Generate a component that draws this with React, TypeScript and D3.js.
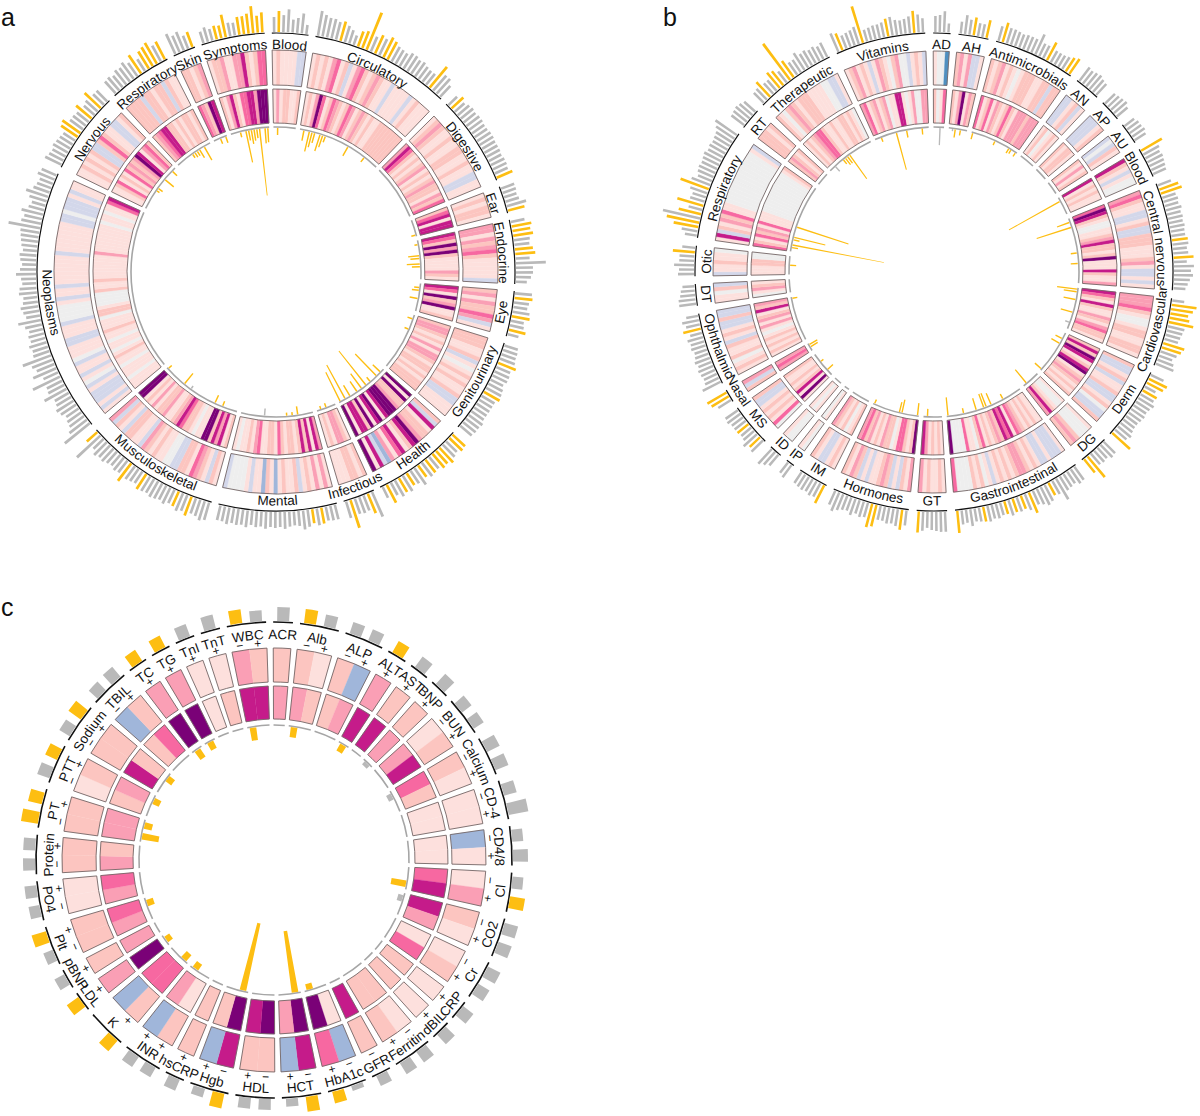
import React from "react";
import * as d3 from "d3";

// Heat levels: 0 grey, 1-6 red-purple ramp, 7 lavender, 8 blue, 9 dark blue
const heatLevels = [0, 1, 2, 3, 4, 5, 6, 7, 8, 9];
const heatColors = ["#eeeeee", "#fde0dd", "#fcc5c0", "#fa9fb5", "#f768a1", "#c51b8a", "#7a0177", "#d3d7ea", "#a0b6da", "#4f8fc0"];

// ---------- Panel a ----------
const aNames = ["Blood", "Circulatory", "Digestive", "Ear", "Endocrine", "Eye", "Genitourinary", "Health", "Infectious", "Mental", "Musculoskeletal", "Neoplasms", "Nervous", "Respiratory", "Skin", "Symptoms"];
const aOuterHeat = [
  [1, 2, 1, 1, 1, 1, 7, 7],
  [1, 2, 1, 2, 1, 3, 4, 1, 2, 7, 1, 3, 4, 2, 1, 2, 3, 2, 1, 1, 7, 1, 1, 1, 1, 7, 1, 2, 1, 1, 1],
  [1, 2, 3, 2, 1, 1, 2, 1, 1, 2, 2, 1, 1, 2, 1, 1, 7, 7, 1, 1],
  [1, 2, 1, 2, 2, 1],
  [3, 3, 1, 3, 2, 3, 4, 2, 1, 1, 1, 1, 1, 7],
  [2, 3, 1, 3, 2, 2, 4, 3, 7, 1],
  [2, 2, 2, 1, 1, 2, 7, 1, 0, 1, 2, 1, 2, 1, 1, 2, 7, 7, 1, 1, 1],
  [2, 7, 5, 1, 2, 2, 3, 6, 5, 2, 1, 5, 4, 1, 3, 8, 7, 5, 1, 6],
  [2, 1, 2, 2, 1, 1, 1],
  [1, 3, 1, 3, 1, 2, 1, 7, 2, 1, 1, 2, 1, 8, 1, 2, 8, 1, 1, 7, 1, 0, 0, 0, 0, 7],
  [1, 2, 7, 1, 2, 3, 4, 1, 2, 2, 7, 7, 0, 0, 1, 1, 2, 1, 2, 3, 7, 1, 1, 2, 2, 7, 1, 2, 7, 3],
  [1, 7, 1, 7, 7, 7, 1, 7, 0, 1, 7, 1, 1, 7, 0, 1, 1, 1, 7, 7, 1, 1, 1, 7, 0, 0, 0, 0, 1, 7, 1, 1, 7, 1, 1, 1, 1, 1, 1, 1, 7, 1, 1, 1, 1, 1, 1, 1, 7, 7, 0, 7, 7, 7, 1, 7, 1, 1],
  [1, 1, 2, 1, 2, 1, 2, 7, 7, 2, 4, 2, 1, 1, 7, 7, 1, 2],
  [2, 2, 2, 2, 7, 2, 2, 1, 2, 2, 7, 2, 1, 1],
  [2, 2, 1, 2, 3],
  [1, 2, 2, 3, 1, 1, 3, 3, 5, 2, 1, 2, 4, 4],
];
const aInnerHeat = [
  [1, 3, 1, 2, 2, 1, 1, 2],
  [1, 2, 1, 3, 6, 4, 1, 2, 4, 3, 2, 1, 2, 4, 3, 1, 2, 3, 2, 1, 2, 1, 1, 2, 2, 2, 2, 2, 2, 2, 2],
  [3, 5, 4, 2, 1, 2, 1, 2, 3, 1, 2, 1, 2, 3, 2, 2, 1, 3, 2, 4],
  [2, 4, 5, 1, 5, 5],
  [5, 4, 2, 6, 3, 6, 2, 1, 1, 1, 1, 3, 2, 1],
  [5, 4, 1, 6, 2, 3, 6, 1, 1, 2],
  [2, 3, 3, 2, 1, 2, 1, 3, 1, 3, 3, 2, 1, 2, 2, 1, 2, 1, 2, 2, 2],
  [6, 1, 6, 2, 2, 3, 6, 6, 6, 5, 1, 6, 5, 1, 6, 2, 5, 5, 1, 6],
  [1, 2, 3, 3, 1, 2, 1],
  [3, 5, 1, 5, 2, 5, 2, 1, 2, 2, 1, 2, 4, 1, 2, 2, 1, 1, 4, 3, 1, 2, 1, 1, 0, 1],
  [2, 1, 5, 3, 5, 2, 6, 6, 1, 1, 0, 1, 2, 2, 4, 5, 3, 2, 1, 1, 3, 2, 2, 1, 3, 1, 2, 1, 6, 6],
  [1, 1, 1, 0, 1, 1, 1, 0, 1, 1, 2, 1, 0, 1, 1, 0, 1, 1, 2, 1, 1, 1, 0, 2, 2, 1, 0, 0, 0, 0, 2, 1, 1, 2, 1, 1, 1, 1, 1, 1, 1, 3, 1, 1, 1, 1, 1, 1, 1, 1, 0, 1, 1, 0, 1, 1, 4, 5],
  [1, 1, 2, 4, 1, 2, 1, 4, 2, 3, 2, 3, 6, 5, 1, 3, 4, 2],
  [2, 3, 4, 5, 5, 2, 2, 1, 2, 1, 2, 2, 1, 2],
  [4, 3, 2, 6, 5],
  [2, 1, 3, 5, 2, 1, 4, 4, 5, 5, 3, 6, 6, 6],
];
const aOuterBars = [
  [15, 21, 17, 23, 13, 15, 20, 9],
  [25, 22, 20, 20, 18, 20, 17, 14, 10, 16, 18, 40, 16, 20, 18, 22, 20, 17, 16, 15, 18, 18, 16, 17, 15, 14, 14, 27, 20, 20, 15],
  [12, 16, 13, 15, 16, 15, 16, 16, 15, 15, 16, 16, 15, 15, 15, 14, 15, 15, 14, 17],
  [14, 14, 13, 14, 20, 17],
  [14, 20, 18, 20, 16, 15, 18, 20, 14, 30, 17, 17, 15, 11],
  [17, 18, 15, 14, 17, 18, 13, 14, 17, 11],
  [14, 15, 15, 16, 19, 15, 16, 16, 14, 16, 17, 18, 15, 15, 15, 15, 15, 17, 16, 16, 15],
  [17, 18, 15, 17, 20, 17, 18, 15, 16, 17, 14, 20, 15, 14, 18, 16, 18, 14, 20, 12],
  [27, 21, 16, 17, 16, 29, 17],
  [15, 15, 14, 16, 17, 14, 17, 19, 15, 14, 15, 17, 15, 16, 15, 17, 15, 16, 14, 17, 15, 16, 15, 17, 15, 15],
  [18, 20, 17, 16, 20, 17, 19, 16, 15, 18, 16, 17, 18, 16, 17, 18, 14, 15, 16, 22, 15, 16, 14, 15, 17, 16, 18, 14, 32, 14],
  [32, 22, 18, 17, 15, 18, 20, 17, 16, 25, 18, 17, 30, 16, 25, 19, 22, 30, 17, 16, 18, 15, 16, 14, 17, 23, 14, 16, 18, 15, 14, 18, 17, 14, 15, 20, 16, 14, 16, 17, 14, 16, 17, 18, 19, 32, 20, 18, 22, 16, 14, 18, 23, 17, 15, 14, 18, 16],
  [18, 16, 15, 17, 16, 15, 14, 20, 22, 16, 16, 15, 20, 14, 16, 22, 15, 15],
  [16, 17, 15, 18, 17, 20, 16, 22, 14, 20, 22, 24, 18, 20],
  [22, 18, 20, 14, 16],
  [12, 15, 12, 14, 13, 23, 14, 13, 18, 18, 20, 27, 17, 20],
];
const aOuterGold = [[1], [5, 9, 10, 11, 13, 15, 16, 27], [1, 19], [5], [1, 2, 3, 6, 7], [1, 5, 8], [4, 11], [0, 1, 4, 5, 6, 8, 10, 13, 15, 18], [1, 5], [3, 5], [4, 7, 15, 19, 29], [], [7, 8, 12, 15], [7, 9, 10, 11, 13], [4], [3, 4, 5, 8, 9, 10, 11, 12, 13]];
const aInnerBars = [
  [[1, 7]],
  [[1, 10], [3, 20], [4, 15], [5, 10], [7, 17], [8, 12], [9, 6], [18, 10], [25, 5]],
  [],
  [[5, 4]],
  [[1, 3], [5, 11], [6, 9], [8, 13], [9, 8]],
  [[1, 5], [2, 7], [5, 8]],
  [[1, 5], [5, 4]],
  [[1, 10], [3, 30], [6, 5], [8, 43], [10, 18], [12, 12], [15, 12], [17, 38], [19, 32]],
  [[3, 4], [5, 3]],
  [[5, 8], [7, 3], [9, 3], [17, 7, 1]],
  [[5, 5], [8, 8], [18, 3, 1], [21, 13], [29, 4]],
  [],
  [[7, 3], [8, 5], [12, 11], [16, 6]],
  [[6, 4], [7, 5], [8, 5], [9, 9], [11, 15]],
  [[2, 5], [4, 6]],
  [[3, 5], [5, 32], [6, 10], [7, 14], [8, 11], [9, 9], [10, 67], [12, 15], [13, 14]],
];

// ---------- Panel b ----------
const bNames = ["AD", "AH", "Antimicrobials", "AN", "AP", "AU", "Blood", "Central nervous", "Cardiovascular", "Derm", "DG", "Gastrointestinal", "GT", "Hormones", "IM", "IP", "ID", "MS", "Nasal", "Ophthalmic", "DT", "Otic", "Respiratory", "RT", "Therapeutic", "Vitamins"];
const bOuterHeat = [
  [1, 0, 0, 9],
  [2, 3, 1, 3, 7, 7, 1],
  [2, 1, 2, 3, 1, 2, 1, 0, 1, 2, 2, 2, 1, 1, 2, 2, 7, 2, 2],
  [7, 7, 1, 2, 7, 1],
  [7, 7, 7, 1, 2],
  [7, 0, 7, 2, 1],
  [5, 2, 1, 7, 1, 0, 0],
  [3, 4, 2, 1, 1, 7, 7, 1, 2, 7, 7, 2, 2, 2, 1, 1, 1, 2, 3, 1, 7, 7, 1, 7, 1],
  [3, 3, 3, 4, 2, 1, 0, 0, 1, 2, 2, 1, 1, 2, 2, 1],
  [2, 7, 7, 1, 2, 7, 1, 1, 2, 7, 7, 1, 2, 0, 7, 7, 2],
  [1, 0, 0, 0, 2, 3, 2],
  [1, 7, 7, 7, 1, 7, 7, 1, 2, 1, 2, 3, 3, 2, 1, 2, 1, 2, 1, 7, 1, 0, 2, 1, 2, 0, 0, 0, 0, 4],
  [1, 2, 1, 1, 2, 1, 3],
  [3, 1, 2, 7, 1, 7, 2, 3, 2, 1, 1, 7, 1, 7, 2, 3, 1, 2],
  [1, 2, 1, 7, 7, 1, 2],
  [0, 1],
  [0, 0, 1],
  [0, 4, 1, 2, 1, 2, 1, 7, 7, 2],
  [2, 7, 3],
  [1, 2, 1, 0, 2, 1, 1, 2, 7, 1, 2, 1, 7, 7, 2, 7, 7],
  [1, 1, 0, 2, 7],
  [7, 1, 1, 2, 1, 1, 0],
  [1, 5, 7, 2, 1, 3, 2, 4, 1, 1, 0, 0, 0, 0, 0, 0, 0, 0, 0, 0, 0, 0, 0, 0, 1, 7],
  [2, 2, 2, 1, 2],
  [2, 1, 0, 2, 3, 2, 1, 2, 2, 2, 1, 1, 1, 1, 0, 0, 7, 7, 1],
  [1, 2, 3, 1, 2, 1, 7, 1, 3, 2, 1, 0, 2, 3, 0, 0, 7, 1, 2, 1, 7],
];
const bInnerHeat = [
  [2, 0, 1, 4],
  [2, 1, 3, 6, 1, 3, 2],
  [4, 1, 2, 4, 1, 3, 2, 1, 2, 4, 2, 1, 3, 3, 3, 2, 3, 3, 3],
  [1, 2, 0, 1, 2, 1],
  [2, 1, 2, 2, 1],
  [2, 1, 3, 1, 2],
  [5, 1, 2, 1, 2, 1, 1],
  [4, 6, 5, 2, 1, 0, 0, 1, 1, 2, 3, 5, 2, 2, 1, 2, 6, 1, 1, 1, 5, 2, 1, 1, 3],
  [5, 4, 2, 1, 5, 2, 1, 1, 3, 2, 1, 3, 4, 2, 2, 1],
  [2, 5, 2, 6, 5, 1, 2, 5, 6, 1, 2, 3, 2, 1, 2, 1, 2],
  [1, 0, 0, 1, 2, 5, 3],
  [1, 1, 2, 1, 2, 1, 2, 3, 4, 1, 5, 4, 5, 2, 3, 2, 1, 2, 1, 4, 2, 0, 1, 1, 4, 0, 0, 0, 0, 6],
  [1, 2, 1, 2, 1, 3, 5],
  [6, 2, 1, 2, 4, 4, 1, 0, 2, 2, 3, 1, 2, 1, 3, 2, 4, 3],
  [2, 1, 0, 2, 1, 2, 3],
  [1, 0],
  [1, 0, 1],
  [1, 6, 1, 5, 2, 1, 2, 1, 1, 2],
  [3, 4, 3],
  [1, 2, 1, 2, 1, 2, 1, 0, 1, 3, 1, 3, 2, 1, 5, 2, 3],
  [0, 1, 3, 2, 1],
  [1, 1, 1, 2, 2, 0, 0],
  [4, 2, 1, 4, 2, 3, 1, 4, 1, 1, 1, 0, 0, 0, 0, 0, 0, 0, 0, 0, 0, 0, 0, 0, 1, 2],
  [2, 3, 2, 1, 2],
  [1, 2, 1, 2, 3, 4, 4, 2, 1, 1, 2, 1, 1, 2, 2, 1, 2, 1, 0],
  [3, 4, 1, 2, 3, 1, 2, 3, 0, 1, 1, 5, 5, 1, 0, 1, 3, 0, 0, 3, 3],
];
const bOuterBars = [
  [16, 17, 21, 9],
  [12, 19, 15, 18, 13, 13, 18],
  [15, 20, 16, 16, 15, 14, 15, 15, 15, 22, 14, 14, 20, 13, 13, 13, 14, 16, 18],
  [17, 16, 17, 18, 16, 15],
  [14, 15, 16, 17, 14],
  [12, 14, 14, 15, 13],
  [24, 18, 16, 17, 16, 15, 14],
  [14, 20, 22, 14, 15, 14, 16, 14, 15, 14, 15, 14, 14, 16, 16, 14, 15, 20, 13, 20, 17, 19, 16, 14, 12],
  [12, 25, 22, 18, 20, 25, 17, 16, 15, 14, 22, 20, 17, 14, 17, 19],
  [14, 20, 18, 12, 16, 15, 18, 16, 15, 16, 15, 14, 14, 15, 17, 15, 24],
  [16, 17, 14, 15, 14, 27, 17],
  [16, 17, 14, 15, 16, 24, 15, 14, 18, 20, 17, 15, 22, 17, 14, 15, 14, 16, 13, 13, 15, 14, 16, 15, 14, 13, 17, 13, 14, 22],
  [20, 20, 19, 18, 16, 19, 21],
  [15, 20, 17, 15, 16, 14, 14, 22, 24, 15, 16, 14, 17, 14, 15, 17, 20, 15],
  [20, 15, 16, 14, 15, 14, 13],
  [15, 13],
  [14, 17, 20],
  [16, 14, 18, 14, 13, 14, 14, 14, 16, 15],
  [15, 20, 22],
  [20, 15, 14, 15, 16, 14, 16, 14, 13, 15, 14, 16, 12, 18, 14, 17, 12],
  [17, 17, 15, 14, 12],
  [16, 15, 20, 15, 15, 22, 13],
  [12, 16, 25, 33, 38, 23, 14, 27, 15, 14, 18, 30, 20, 15, 17, 18, 17, 18, 19, 17, 18, 17, 18, 19, 22, 26],
  [16, 17, 18, 17, 15],
  [14, 15, 20, 14, 14, 20, 18, 14, 45, 20, 15, 15, 20, 16, 17, 15, 16, 14, 16],
  [20, 18, 14, 15, 16, 18, 38, 12, 13, 14, 14, 15, 18, 19, 15, 14, 15, 17, 22, 18, 14],
];
const bOuterGold = [[], [3, 6], [1, 12, 17, 18], [], [], [], [0], [1, 2, 13, 17], [1, 2, 3, 4, 5, 10, 11], [1, 2, 4, 16], [5, 6], [7, 12, 14, 16, 18, 23, 29], [6], [1, 7, 8], [0], [], [], [1, 5], [1, 2], [13], [], [5], [2, 3, 5, 7, 11], [], [2, 5, 6, 8, 9], [1, 6, 12, 18]];
const bInnerBars = [
  [[2, 17, 1]],
  [[1, 2, 1], [2, 8], [4, 5]],
  [[0, 6], [9, 4], [15, 5], [16, 4], [18, 4]],
  [],
  [],
  [],
  [[1, 58]],
  [[1, 13], [3, 36], [13, 6], [17, 7]],
  [[0, 20], [1, 13], [4, 12], [9, 12], [13, 4, 1]],
  [[2, 7], [4, 9], [16, 8]],
  [[5, 17]],
  [[7, 5], [12, 12], [14, 14], [15, 14], [18, 12], [23, 5], [29, 18]],
  [[5, 7]],
  [[0, 12], [6, 13], [7, 10], [17, 4]],
  [],
  [],
  [],
  [[2, 7], [6, 3]],
  [[1, 8], [2, 9]],
  [[16, 5]],
  [],
  [[3, 6]],
  [[1, 6], [2, 93], [4, 6], [5, 32], [9, 54]],
  [],
  [[2, 6, 1], [6, 5], [7, 8], [8, 8], [9, 29]],
  [[2, 4], [8, 38], [12, 7], [18, 6]],
];

// ---------- Panel c ----------
const cNames = ["ACR", "Alb", "ALP", "ALT", "AST", "BNP", "BUN", "Calcium", "CD-4", "CD4/8", "Cl", "CO2", "Cr", "CRP", "dBIL", "Ferritin", "GFR", "HbA1c", "HCT", "HDL", "Hgb", "hsCRP", "INR", "K", "LDL", "pBNP", "Plt", "PO4", "Protein", "PT", "PTT", "Sodium", "TBIL", "TC", "TG", "TnI", "TnT", "WBC"];
const cSigns = [[""], ["−", "+"], ["−", "+"], ["+"], ["+"], ["+"], ["−", "+"], ["−", "+"], ["−", "+"], ["−", "+"], ["−", "+"], ["−", "+"], ["−", "+"], ["+"], ["+"], ["−", "+"], ["−"], ["−", "+"], ["−", "+"], ["−", "+"], ["−", "+"], ["+"], ["+", "+"], ["+", ""], ["+"], ["+"], ["−", "+"], ["−", "+"], ["−", "+"], ["−", "+"], ["−", "+"], ["−", "+"], ["−", "+"], ["+"], ["+"], ["+"], ["+"], ["−", "+"]];
const cOuterHeat = [[2], [2, 1], [2, 8], [3], [2], [2], [1, 2], [2, 1], [1, 1], [8, 1], [1, 3], [2, 1], [1, 2], [1], [1], [1, 2], [2], [8, 4], [5, 8], [2, 2], [5, 8], [2], [2, 8], [2, 8], [3], [2], [2, 2], [1, 1], [2, 2], [2, 2], [1, 2], [2, 2], [8, 2], [3], [3], [1], [1], [3, 2]];
const cInnerHeat = [[3], [3, 2], [2, 3], [5], [5], [3], [3, 5], [4, 2], [1, 1], [1, 1], [4, 5], [5, 3], [1, 4], [2], [2], [2, 2], [5], [1, 6], [6, 3], [6, 5], [6, 2], [2], [1, 3], [4, 4], [6], [3], [3, 4], [3, 4], [3, 2], [3, 3], [2, 3], [5, 2], [2, 4], [6], [6], [1], [2], [5, 5]];
const cOuterBars = [[14], [14, 12], [12, 12], [13], [13], [14], [12, 12], [14, 14], [13, 20], [11, 15], [11, 15], [14, 14], [14, 13], [13], [13], [13, 13], [11], [5, 12], [15, 8], [11, 11], [15, 9], [12], [11, 12], [14, 0], [14], [11], [10, 15], [11, 12], [12, 12], [17, 14], [13, 13], [12, 15], [12, 13], [13], [13], [13], [14], [14, 11]];
const cOuterGold = [[], [0], [], [0], [], [], [], [], [], [], [1], [], [], [], [], [], [], [1], [0], [], [0], [], [], [0], [0], [], [1], [], [], [0, 1], [1], [1], [], [0], [0], [], [], [0]];
const cInnerBars = [[], [[0, 10]], [], [[0, 8]], [], [[0, 4, 1]], [], [[0, 5, 1]], [], [], [[1, 15]], [[0, 5, 1]], [], [], [], [], [], [[1, 6]], [[0, 62]], [], [[0, 69]], [], [[1, 7]], [[0, 8]], [[0, 6]], [], [[1, 7]], [], [], [[0, 17], [1, 8]], [[1, 7]], [[1, 7]], [], [[0, 10]], [[0, 8]], [], [], [[0, 13]]];

const heatScale = d3.scaleOrdinal<number, string>().domain(heatLevels).range(heatColors);
const FONT = "'Liberation Sans', Arial, Helvetica, sans-serif";
const GOLD = "#fdbe12";
const GREY = "#b9b9b9";
const rad = (deg: number) => (deg * Math.PI) / 180;
const arcGen = d3.arc<any>();

function polar(cx: number, cy: number, r: number, a: number) {
  return [cx + r * Math.sin(a), cy - r * Math.cos(a)];
}

type RingProps = {
  id: string; cx: number; cy: number; names: string[]; outerHeat: number[][]; innerHeat: number[][];
  outerBars: number[][]; gold: number[][]; innerBars: number[][][]; signs?: string[][];
  start: number; gap: number; barFrac: number; blackHalf: number;
  rOuter: [number, number]; rInner: [number, number]; rGrey: number; rBlack: number; labelTop: number; labelBottom: number;
};

function Ring(p: RingProps) {
  const counts = p.outerBars.map((b) => b.length);
  const total = d3.sum(counts);
  const unit = (360 - p.gap * counts.length) / total;
  const barLen = d3.scaleLinear().domain([0, 100]).range([0, 100]);
  const sectors: any[] = [];
  let cursor = p.start;
  counts.forEach((n, i) => {
    sectors.push({ i, n, a0: cursor, a1: cursor + n * unit });
    cursor += n * unit + p.gap;
  });
  return (
    <g>
      {sectors.map((s) => {
        const ang = d3.scaleLinear().domain([0, s.n]).range([rad(s.a0), rad(s.a1)]);
        const mid = (s.a0 + s.a1) / 2;
        const norm = ((mid % 360) + 360) % 360;
        const flip = norm > 90 && norm < 270;
        const span = rad(Math.min(60, 30 + (s.a1 - s.a0)));
        const rl = flip ? p.labelBottom : p.labelTop;
        const m = rad(mid);
        const [sx, sy] = polar(p.cx, p.cy, rl, flip ? m + span : m - span);
        const [ex, ey] = polar(p.cx, p.cy, rl, flip ? m - span : m + span);
        const pid = `${p.id}-label-${s.i}`;
        const frame = (r: [number, number]) =>
          arcGen({ innerRadius: r[0], outerRadius: r[1], startAngle: rad(s.a0), endAngle: rad(s.a1) }) as string;
        const goldSet = new Set(p.gold[s.i]);
        return (
          <g key={s.i}>
            <g transform={`translate(${p.cx},${p.cy})`}>
              {[{ vals: p.outerHeat[s.i], r: p.rOuter }, { vals: p.innerHeat[s.i], r: p.rInner }].map((row, ri) => (
                <g key={ri}>
                  {row.vals.map((v, k) => (
                    <path key={k} fill={heatScale(v)} stroke={heatScale(v)} strokeWidth={0.3}
                      d={arcGen({ innerRadius: row.r[0], outerRadius: row.r[1], startAngle: ang(k), endAngle: ang(k + 1) }) as string} />
                  ))}
                  <path d={frame(row.r)} fill="none" stroke="#746666" strokeWidth={0.9} />
                </g>
              ))}
              <path d={arcGen({ innerRadius: p.rGrey - 0.8, outerRadius: p.rGrey + 0.8, startAngle: rad(s.a0), endAngle: rad(s.a1) }) as string} fill="#a6a6a6" />
              <path d={arcGen({ innerRadius: p.rBlack - p.blackHalf, outerRadius: p.rBlack + p.blackHalf, startAngle: rad(s.a0), endAngle: rad(s.a1) }) as string} fill="#111" />
              {p.outerBars[s.i].map((v, k) => v > 0 && (
                <path key={k} fill={goldSet.has(k) ? GOLD : GREY}
                  d={arcGen({
                    innerRadius: p.rBlack + 1, outerRadius: p.rBlack + 1 + barLen(v),
                    startAngle: ang(k + 0.5 - p.barFrac / 2), endAngle: ang(k + 0.5 + p.barFrac / 2),
                  }) as string} />
              ))}
              {p.innerBars[s.i].map((b, k) => (
                <path key={k} fill={b[2] ? GREY : GOLD}
                  d={arcGen({
                    innerRadius: p.rGrey - 1 - barLen(b[1]), outerRadius: p.rGrey - 1,
                    startAngle: ang(b[0] + 0.5 - p.barFrac / 2), endAngle: ang(b[0] + 0.5 + p.barFrac / 2),
                  }) as string} />
              ))}
            </g>
            <path id={pid} d={`M${sx},${sy}A${rl},${rl} 0 0 ${flip ? 0 : 1} ${ex},${ey}`} fill="none" />
            <text fontSize={13.5} fontFamily={FONT} fill="#111" textAnchor="middle">
              <textPath href={`#${pid}`} startOffset="50%">{p.names[s.i]}</textPath>
            </text>
            {p.signs && p.signs[s.i].map((sg, k) => {
              const a = ang(k + 0.5);
              const [x, y] = polar(p.cx, p.cy, 217, a);
              const deg = (a * 180) / Math.PI;
              return sg ? (
                <text key={k} x={x} y={y} fontSize={12} fontFamily={FONT} fill="#111" textAnchor="middle" dominantBaseline="central"
                  transform={`rotate(${flip ? deg - 180 : deg},${x},${y})`}>{sg}</text>
              ) : null;
            })}
          </g>
        );
      })}
    </g>
  );
}

export default function App() {
  return (
    <svg width={1200} height={1116} viewBox="0 0 1200 1116" style={{ position: "absolute", left: 0, top: 0, background: "#fff" }}>
      <text x={1} y={26} fontSize={25} fontFamily={FONT} fill="#111">a</text>
      <text x={663} y={26} fontSize={25} fontFamily={FONT} fill="#111">b</text>
      <text x={1} y={616} fontSize={25} fontFamily={FONT} fill="#111">c</text>
      <Ring id="a" cx={276} cy={272} names={aNames} outerHeat={aOuterHeat} innerHeat={aInnerHeat} outerBars={aOuterBars} gold={aOuterGold} innerBars={aInnerBars}
        start={-1} gap={1.7} barFrac={0.55} blackHalf={0.6} rOuter={[187, 222]} rInner={[149, 183]} rGrey={145} rBlack={239} labelTop={223} labelBottom={233.5} />
      <Ring id="b" cx={934} cy={272} names={bNames} outerHeat={bOuterHeat} innerHeat={bInnerHeat} outerBars={bOuterBars} gold={bOuterGold} innerBars={bInnerBars}
        start={-0.2} gap={1.9} barFrac={0.55} blackHalf={0.6} rOuter={[187, 221]} rInner={[149, 183]} rGrey={145} rBlack={239} labelTop={223} labelBottom={233.5} />
      <Ring id="c" cx={274} cy={860} names={cNames} outerHeat={cOuterHeat} innerHeat={cInnerHeat} outerBars={cOuterBars} gold={cOuterGold} innerBars={cInnerBars} signs={cSigns}
        start={-0.2} gap={1.7} barFrac={0.6} blackHalf={0.8} rOuter={[178, 212]} rInner={[141, 174]} rGrey={135} rBlack={238} labelTop={221} labelBottom={233} />
    </svg>
  );
}
